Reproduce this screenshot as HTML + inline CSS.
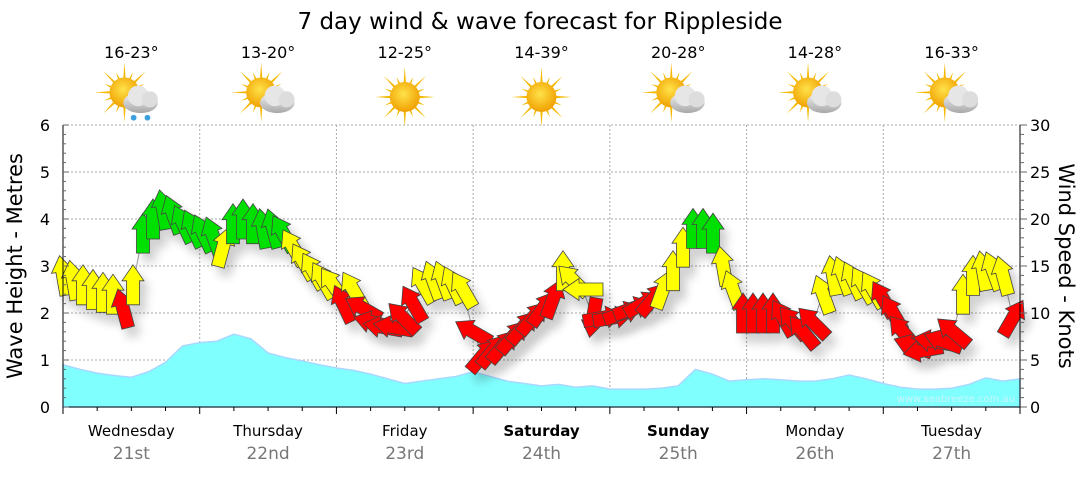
<!DOCTYPE html>
<html><head><meta charset="utf-8"><style>
body{margin:0;background:#fff;}
svg text{font-family:"DejaVu Sans","Liberation Sans",sans-serif;}
</style></head><body>
<svg id="c" width="1080" height="475" viewBox="0 0 1080 475">
<defs>
<filter id="sh" x="-50%" y="-50%" width="200%" height="200%"><feGaussianBlur stdDeviation="5"/></filter>
<radialGradient id="sun" cx="45%" cy="40%" r="60%"><stop offset="0" stop-color="#ffe24a"/><stop offset="1" stop-color="#f0a000"/></radialGradient>
<linearGradient id="cloud" x1="0" y1="0" x2="0" y2="1"><stop offset="0" stop-color="#f2f2f2"/><stop offset="1" stop-color="#a8a8a8"/></linearGradient>
</defs>
<text x="540" y="29" text-anchor="middle" font-size="23" fill="#000">7 day wind &amp; wave forecast for Rippleside</text>
<g id="grid"></g><g id="wave"></g><g id="shadows" opacity="0.2"></g><g id="arrows"></g><g id="axes"></g><g id="top"></g>
<text x="1015" y="402" text-anchor="end" font-size="10" fill="#c8f4f8">www.seabreeze.com.au</text>
<text transform="translate(22,266) rotate(-90)" text-anchor="middle" font-size="21">Wave Height - Metres</text>
<text transform="translate(1059,266) rotate(90)" text-anchor="middle" font-size="21">Wind Speed - Knots</text>
</svg>
<script>
const days=["Wednesday","Thursday","Friday","Saturday","Sunday","Monday","Tuesday"];
const dates=["21st","22nd","23rd","24th","25th","26th","27th"];
const temps=["16-23°","13-20°","12-25°","14-39°","20-28°","14-28°","16-33°"];
const icons=["rain","cloud","sun","sun","cloud","cloud","cloud"];
const waveHeights=[.9,.8,.72,.67,.63,.75,.95,1.3,1.37,1.4,1.55,1.45,1.15,1.05,.98,.9,.83,.78,.7,.6,.5,.55,.6,.65,.75,.65,.55,.5,.45,.48,.42,.45,.38,.38,.38,.4,.45,.8,.7,.55,.58,.6,.58,.55,.55,.6,.68,.6,.5,.42,.38,.38,.4,.48,.62,.55,.6];
const windSpeed=[14,13.5,13,12.5,12.2,12,10.5,13,18.5,20,21,20.5,19.5,19,18.5,18.2,17,19.5,20,19.5,19,19,18.5,17,15.5,14.5,13.5,13,11,12.5,10.5,9,8.5,8.5,9.5,11,13,13.5,13.5,13,12.5,8,5.5,6,6.5,7.5,8.5,9.5,10.5,11.5,14.5,13.5,12.5,9.5,9.5,9.5,10,10.5,11,11.5,12.5,14.5,17,19,19,18.5,15,12.5,10,10,10,10,9.5,9,8,9,12,14,14,13.5,13,12.5,11.5,10,8,6.5,6,7,7,8,12,14,14.5,14.5,14,9.5];
const windDir=[-10,-10,0,0,0,0,-15,0,0,0,-10,-20,-25,-25,-25,-20,15,0,0,0,-10,-15,-30,-30,-30,-30,-30,-35,-25,-30,-60,-75,-80,-80,-45,-30,-30,-20,-20,-25,-30,-60,40,40,40,40,40,40,35,20,0,-45,-90,190,80,80,70,70,60,40,20,0,0,0,0,0,-10,-20,0,0,0,0,-30,-40,-40,-45,-20,-10,-20,-25,-30,-30,-30,-30,-40,-70,-100,-80,-70,-50,0,0,-10,-20,-15,30];
const ns="http://www.w3.org/2000/svg";
const X0=63,X1=1020,Y0=407,Y1=125;
const xT=h=>X0+(X1-X0)*h/168;
const yM=m=>Y0-(Y0-Y1)*m/6;
const yK=k=>Y0-(Y0-Y1)*k/30;
function mk(tag,attrs,parent){const e=document.createElementNS(ns,tag);for(const k in attrs)e.setAttribute(k,attrs[k]);parent.appendChild(e);return e;}
const G=id=>document.getElementById(id);
for(let m=1;m<=6;m++){const l=mk('line',{x1:X0,x2:X1,y1:yM(m),y2:yM(m),stroke:'#aaa','stroke-dasharray':'2,2'},G('grid'));

}
for(let d=1;d<7;d++){const l=mk('line',{x1:xT(d*24),x2:xT(d*24),y1:Y1,y2:Y0,stroke:'#aaa','stroke-dasharray':'2,2'},G('grid'));

}
let pts=[[X0,Y0]];waveHeights.forEach((v,i)=>pts.push([xT(i*3),yM(v)]));pts.push([X1,yM(waveHeights[waveHeights.length-1])],[X1,Y0]);
const wa=mk('path',{d:'M'+pts.map(p=>p.join(',')).join('L')+'Z',fill:'#80ffff',stroke:'#a8d8ff','stroke-width':1.5},G('wave'));


const n=windSpeed.length,step=(X1-X0-7)/(n-1);
const lp=windSpeed.map((v,i)=>(X0+i*step)+','+yK(v)).join(' ');
const wl=mk('polyline',{points:lp,fill:'none',stroke:'#999','stroke-width':1},G('wave'));


const AP="M0,-20 L11,-4 L6.5,-4 L6.5,20 L-6.5,20 L-6.5,-4 L-11,-4 Z";
windSpeed.forEach((v,i)=>{
 const x=X0+i*step,y=yK(v),r=windDir[i];
 const col=v<12?'#ff0000':(v<18?'#ffff00':'#00e000');
 mk('path',{d:AP,fill:'#000',transform:`translate(${x+6},${y+9}) rotate(${r})`,filter:'url(#sh)'},G('shadows'));
 const a=mk('path',{d:AP,fill:col,stroke:'#444','stroke-width':0.8,transform:`translate(${x},${y}) rotate(${r})`},G('arrows'));
 
 
});
const ax=G('axes');
mk('line',{x1:X0,x2:X0,y1:Y1,y2:Y0,stroke:'#000'},ax);
mk('line',{x1:X1,x2:X1,y1:Y1,y2:Y0,stroke:'#000'},ax);
mk('line',{x1:X0,x2:X1,y1:Y0,y2:Y0,stroke:'#000'},ax);
for(let k=0;k<=30;k++){const y=Y0-(Y0-Y1)*k/30;mk('line',{x1:X0,x2:X0+(k%5?3:6),y1:y,y2:y,stroke:'#666'},ax);mk('line',{x1:X1,x2:X1+(k%5?4:7),y1:y,y2:y,stroke:'#666'},ax);}
for(let m=0;m<=6;m++){const t=mk('text',{x:50,y:yM(m)+6,'text-anchor':'end','font-size':16},ax);t.textContent=m;

}
for(let k=0;k<=30;k+=5){const t=mk('text',{x:1030,y:yK(k)+6,'font-size':16},ax);t.textContent=k;

}
for(let h=0;h<=168;h+=6){mk('line',{x1:xT(h),x2:xT(h),y1:Y0,y2:Y0+(h%24?4:7),stroke:'#000'},ax);}
days.forEach((d,i)=>{const cx=xT(i*24+12),we=(d=="Saturday"||d=="Sunday");
 const t=mk('text',{x:cx,y:436,'text-anchor':'middle','font-size':15,'font-weight':we?'bold':'normal'},ax);t.textContent=d;
 
 
 const t2=mk('text',{x:cx,y:459,'text-anchor':'middle','font-size':17,fill:'#777'},ax);t2.textContent=dates[i];
 
 
 const t3=mk('text',{x:cx,y:58,'text-anchor':'middle','font-size':16},G('top'));t3.textContent=temps[i];
 
 
 const g=mk('g',{transform:`translate(${cx},97) scale(1.15)`},G('top'));
 
 
 const sx=icons[i]=="sun"?0:-6,sy=icons[i]=="sun"?0:-4;
 for(let a=0;a<16;a++){const ang=a*Math.PI/8,L=a%2?19:26;mk('polygon',{points:`${sx+Math.cos(ang-0.12)*10},${sy+Math.sin(ang-0.12)*10} ${sx+Math.cos(ang)*L},${sy+Math.sin(ang)*L} ${sx+Math.cos(ang+0.12)*10},${sy+Math.sin(ang+0.12)*10}`,fill:'#f5b800'},g);}
 mk('circle',{cx:sx,cy:sy,r:13,fill:'url(#sun)'},g);
 if(icons[i]!="sun"){
  mk('ellipse',{cx:8,cy:5,rx:15,ry:9,fill:'url(#cloud)'},g);
  mk('circle',{cx:6,cy:-1,r:9,fill:'#e6e6e6'},g);
  mk('circle',{cx:16,cy:2,r:7,fill:'#ddd'},g);
 }
 if(icons[i]=="rain"){mk('circle',{cx:2,cy:18,r:2.5,fill:'#3aa0e0'},g);mk('circle',{cx:14,cy:18,r:2.5,fill:'#3aa0e0'},g);}
});
</script>
</body></html>
